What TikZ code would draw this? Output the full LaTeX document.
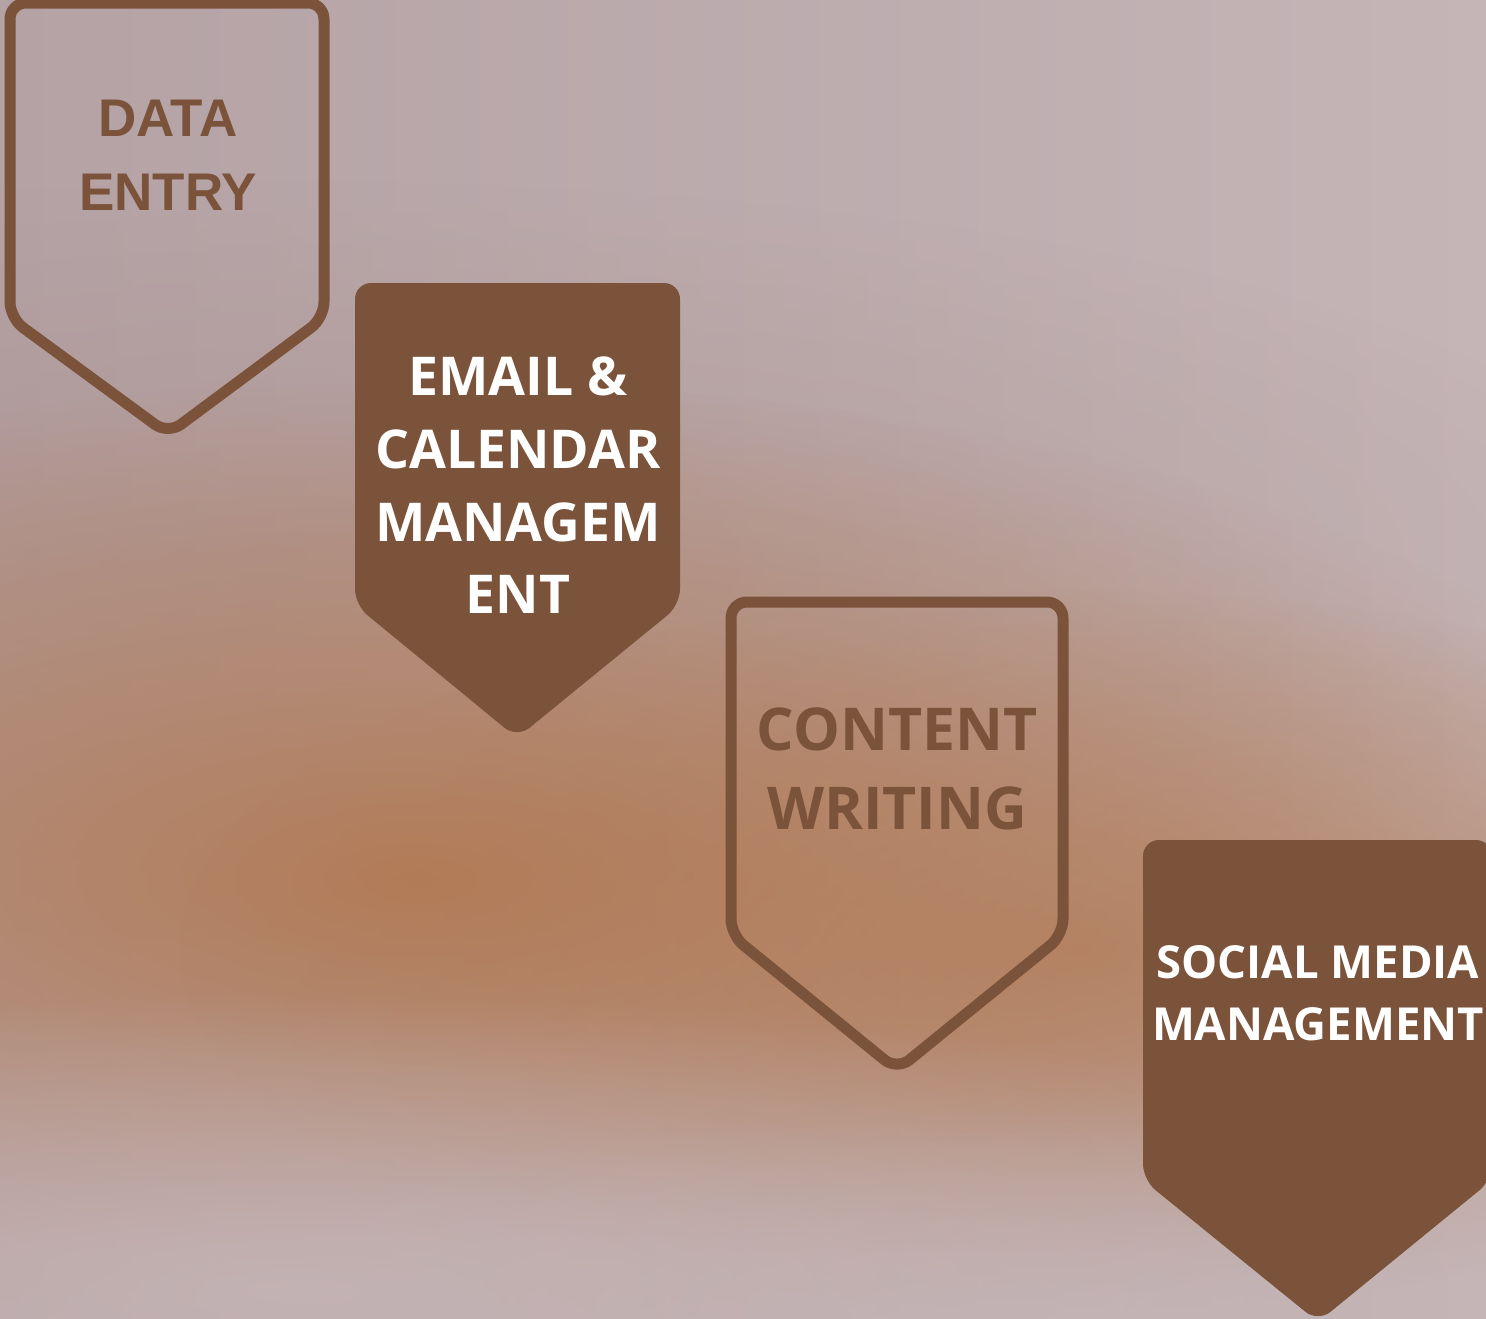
\documentclass[tikz,border=0pt]{standalone}
\usepackage{fontspec}
\usetikzlibrary{fadings}
\newfontfamily\opensans{Open Sans}
\newfontfamily\arialish{Liberation Sans}
\definecolor{badgebrown}{RGB}{123,82,58}
\definecolor{bgmauve}{RGB}{180,162,165}
\definecolor{bglight}{RGB}{197,181,183}
\definecolor{bgorange}{RGB}{178,122,84}
\definecolor{bgdusk}{RGB}{170,142,136}
\tikzfading[name=softblob, inner color=transparent!0, outer color=transparent!100]

\begin{document}
\begin{tikzpicture}[x=1pt,y=-1pt,
        badgeline/.style={draw=badgebrown,line width=11pt,rounded corners=16pt,line join=round},
        badgefill/.style={fill=badgebrown,rounded corners=16pt},
        darklabel/.style={text=badgebrown,inner sep=0pt,anchor=base},
        lightlabel/.style={text=white,inner sep=0pt,anchor=base},
        blob/.style={path fading=softblob}
      ]
      \useasboundingbox (0,0) rectangle (1486,1318);
      % background
      \begin{scope}
        \clip (0,0) rectangle (1486,1318);
        \shade[left color=bgmauve,right color=bglight] (0,0) rectangle (1486,1318);
        \fill[bgdusk,blob,opacity=.5] (300,560) ellipse [x radius=1400, y radius=380];
        \fill[bgorange,blob,opacity=.95] (420,880) ellipse [x radius=1300, y radius=500];
        \fill[bgorange,blob,opacity=.7] (1080,950) ellipse [x radius=900, y radius=360];
        \fill[bglight,blob,opacity=.9] (300,1290) ellipse [x radius=1300, y radius=300];
        \fill[bglight,blob,opacity=.6] (1000,1310) ellipse [x radius=900, y radius=200];
      \end{scope}

      % badges
      \draw[badgeline] (10,3) -- (324,3) -- (324,318) -- (168,434) -- (10,318) -- cycle;
      \fill[badgefill] (355,283) -- (680,283) -- (680,605) -- (517,738) -- (355,605) -- cycle;
      \draw[badgeline] (731,602) -- (1063,602) -- (1063,935) -- (897,1070) -- (731,935) -- cycle;
      \fill[badgefill] (1143,840) -- (1492,840) -- (1492,1180) -- (1318,1322) -- (1143,1180) -- cycle;

      % labels
      \begin{scope}[every node/.append style={font=\arialish\bfseries\fontsize{53}{64}\selectfont}]
        \node[darklabel] (data1) at (168,136) {DATA};
        \node[darklabel] (data2) at (168,210) {ENTRY};
      \end{scope}
      \begin{scope}[every node/.append style={font=\opensans\bfseries\fontsize{53.5}{64}\selectfont}]
        \node[lightlabel] (mail1) at (518,395) {EMAIL \&};
        \node[lightlabel] (mail2) at (518,468) {CALENDAR};
        \node[lightlabel] (mail3) at (518,541) {MANAGEM};
        \node[lightlabel] (mail4) at (518,613) {ENT};
      \end{scope}
      \begin{scope}[every node/.append style={font=\opensans\bfseries\fontsize{59}{70}\selectfont}]
        \node[darklabel] (write1) at (897,750) {CONTENT};
        \node[darklabel] (write2) at (897,829) {WRITING};
      \end{scope}
      \begin{scope}[every node/.append style={font=\opensans\bfseries\fontsize{45.5}{56}\selectfont}]
        \node[lightlabel] (social1) at (1318,978) {SOCIAL MEDIA};
        \node[lightlabel] (social2) at (1318,1040) {MANAGEMENT};
      \end{scope}
    \end{tikzpicture}
\end{document}
